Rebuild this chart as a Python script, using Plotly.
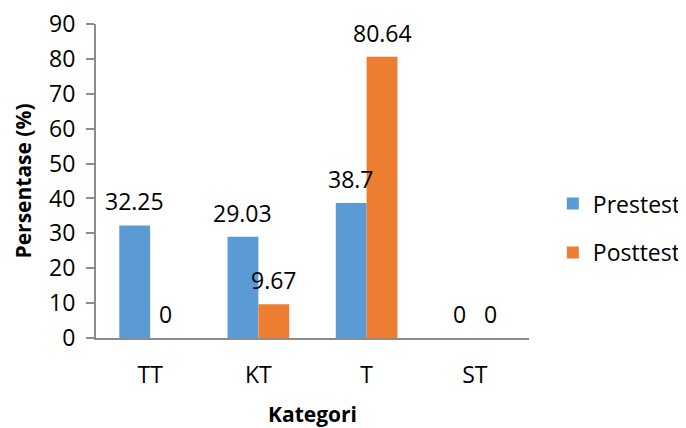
import plotly.graph_objects as go

categories = ["TT", "KT", "T", "ST"]
prestest = [32.25, 29.03, 38.7, 0]
posttest = [0, 9.67, 80.64, 0]
series_names = ["Prestest", "Posttest"]
y_ticks = [0, 10, 20, 30, 40, 50, 60, 70, 80, 90]

BLUE = "#5B9BD5"
ORANGE = "#ED7D31"
FONT = "Open Sans"
FS = 23

fig = go.Figure()
fig.add_trace(go.Bar(x=categories, y=prestest, name=series_names[0],
                     marker=dict(color=BLUE, line=dict(width=0)), legendgroup="a"))
fig.add_trace(go.Bar(x=categories, y=posttest, name=series_names[1],
                     marker=dict(color=ORANGE, line=dict(width=0)), legendgroup="b"))

annotations = []
for vals, shift in ((prestest, -15.5), (posttest, 15.5)):
    for c, v in zip(categories, vals):
        annotations.append(dict(
            x=c, y=v, xref="x", yref="y", text=f"{v:g}", showarrow=False,
            xshift=shift, yshift=24, yanchor="middle", xanchor="center",
            font=dict(family=FONT, size=FS, color="#000000")))

fig.update_layout(
    width=678, height=420,
    margin=dict(l=88, r=157, t=16, b=90, autoexpand=False),
    paper_bgcolor="white", plot_bgcolor="white",
    barmode="group", bargap=0.43, bargroupgap=0,
    font=dict(family=FONT, size=FS, color="#000000"),
    showlegend=True,
    legend=dict(x=1.055, xanchor="left", y=0.35, yanchor="middle",
                font=dict(family=FONT, size=FS), traceorder="grouped",
                tracegroupgap=16, itemwidth=30, bgcolor="rgba(0,0,0,0)"),
    annotations=annotations,
    xaxis=dict(
        showline=True, linecolor="#8C8C8C", linewidth=2,
        ticks="", showgrid=False, zeroline=False, automargin=True,
        ticklabelstandoff=15, ticklabeloverflow="allow",
        tickfont=dict(family=FONT, size=FS),
        title=dict(text="<b>Kategori</b>", standoff=30,
                   font=dict(family=FONT, size=21)),
    ),
    yaxis=dict(
        range=[0, 90], tickvals=y_ticks, automargin=False,
        showline=True, linecolor="#8C8C8C", linewidth=2,
        ticks="outside", ticklen=8, tickwidth=2, tickcolor="#8C8C8C",
        showgrid=False, zeroline=False,
        ticklabelstandoff=6, ticklabeloverflow="allow",
        tickfont=dict(family=FONT, size=FS),
        title=dict(text="<b>Persentase (%)</b>", standoff=12,
                   font=dict(family=FONT, size=21)),
    ),
)

fig.write_html("out.html")
